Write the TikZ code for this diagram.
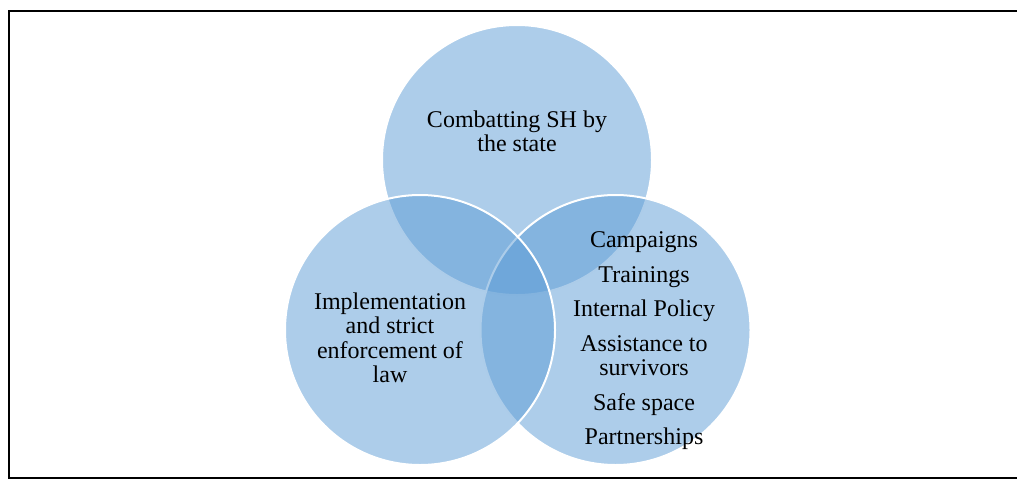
\documentclass[tikz,border=0pt]{standalone}
\usepackage{fontspec}
\setmainfont{Liberation Serif}
\definecolor{smartblue}{RGB}{91,155,213}

\begin{document}
\begin{tikzpicture}[x = 1pt, y = -1pt]
\tikzstyle{CircleStyle}=[shape = circle,
                         minimum size = 270pt,
                         inner sep = 0pt,
                         fill = smartblue,
                         fill opacity = 0.5,
                         draw = white,
                         line width = 2pt]
\tikzstyle{LabelStyle}=[align = center,
                        inner sep = 0pt,
                        font = \fontsize{24}{24.5}\selectfont]

\useasboundingbox (0,0) rectangle (1017,480);
\clip (0,0) rectangle (1017,480);
\draw[line width = 2pt] (1030,11) -- (9,11) -- (9,478.3) -- (1030,478.3);

\node[CircleStyle] (c0) at (517,160) {};
\node[CircleStyle] (c2) at (615.5,330) {};
\node[CircleStyle] (c1) at (420,330) {};

\node[LabelStyle] (t0) at (517,131.3) {Combatting SH by\\the state};
\node[LabelStyle] (t1) at (390,337.8) {Implementation\\and strict\\enforcement of\\law};
\node[LabelStyle] (t2) at (644,341.1) {Campaigns\\[10pt]Trainings\\[10pt]Internal Policy\\[10pt]Assistance to\\survivors\\[10pt]Safe space\\[10pt]Partnerships};
\end{tikzpicture}
\end{document}
